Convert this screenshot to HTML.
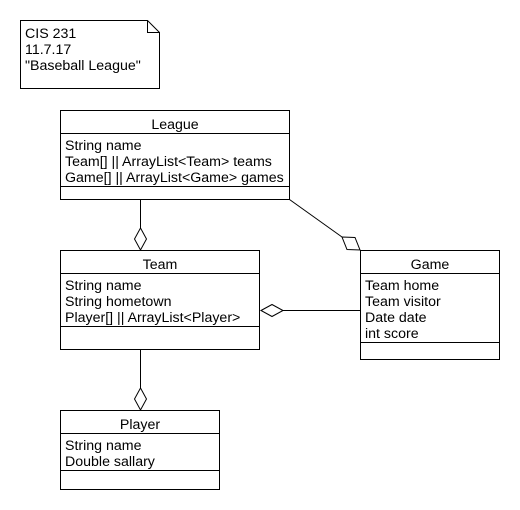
<!DOCTYPE html>
<html><head><meta charset="utf-8"><style>
html,body{margin:0;padding:0;background:#fff;}
svg{display:block;}
text{font-family:"Liberation Sans",Arial,sans-serif;font-size:14.2px;fill:#000;}
</style></head><body>
<svg width="520" height="510" viewBox="0 0 520 510" xmlns="http://www.w3.org/2000/svg">
<g fill="none" stroke="#000" stroke-width="1">
<path d="M20.5 20.5 H147.5 L159.5 32.5 V88.5 H20.5 Z"/>
<path d="M147.5 20.5 V32.5 H159.5"/>
<rect x="60.5" y="110.5" width="229" height="89"/>
<line x1="60.5" y1="133.5" x2="289.5" y2="133.5"/>
<line x1="60.5" y1="186.5" x2="289.5" y2="186.5"/>
<rect x="60.5" y="250.5" width="199" height="99"/>
<line x1="60.5" y1="273.5" x2="259.5" y2="273.5"/>
<line x1="60.5" y1="326.5" x2="259.5" y2="326.5"/>
<rect x="360.5" y="250.5" width="139" height="109"/>
<line x1="360.5" y1="273.5" x2="499.5" y2="273.5"/>
<line x1="360.5" y1="342.5" x2="499.5" y2="342.5"/>
<rect x="60.5" y="410.5" width="159" height="79"/>
<line x1="60.5" y1="433.5" x2="219.5" y2="433.5"/>
<line x1="60.5" y1="470.5" x2="219.5" y2="470.5"/>
<line x1="140.5" y1="200" x2="140.5" y2="228"/>
<path d="M140.5 228 L146.5 239 L140.5 250 L134.5 239 Z"/>
<line x1="140.5" y1="350" x2="140.5" y2="388"/>
<path d="M140.5 388 L146.5 399 L140.5 410 L134.5 399 Z"/>
<line x1="283" y1="310.5" x2="360" y2="310.5"/>
<path d="M261 310.5 L272 304.5 L283 310.5 L272 316.5 Z"/>
<line x1="289.5" y1="199.5" x2="342" y2="237"/>
<path d="M342 237 L355 237.5 L360 250 L347 249.5 Z"/>
</g>
<text x="25" y="38">CIS 231</text>
<text x="25" y="54">11.7.17</text>
<text x="25" y="70">"Baseball League"</text>
<text x="175" y="129" text-anchor="middle">League</text>
<text x="65" y="150">String name</text>
<text x="65" y="166">Team[] || ArrayList&lt;Team&gt; teams</text>
<text x="65" y="182">Game[] || ArrayList&lt;Game&gt; games</text>
<text x="160" y="269" text-anchor="middle">Team</text>
<text x="65" y="290">String name</text>
<text x="65" y="306">String hometown</text>
<text x="65" y="322">Player[] || ArrayList&lt;Player&gt;</text>
<text x="430" y="269" text-anchor="middle">Game</text>
<text x="365" y="290">Team home</text>
<text x="365" y="306">Team visitor</text>
<text x="365" y="322">Date date</text>
<text x="365" y="338">int score</text>
<text x="140" y="429" text-anchor="middle">Player</text>
<text x="65" y="450">String name</text>
<text x="65" y="466">Double sallary</text>
</svg>
</body></html>
